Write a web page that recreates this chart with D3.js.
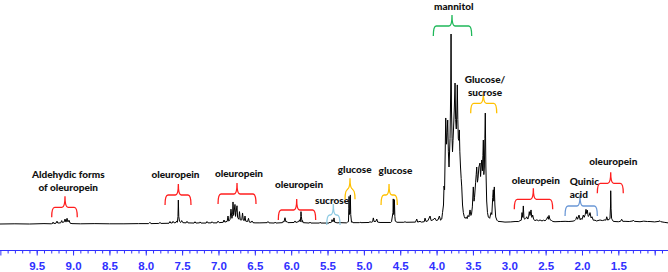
<!DOCTYPE html>
<html><head><meta charset="utf-8">
<script src="https://cdn.jsdelivr.net/npm/d3@7"></script>
<style>
html,body{margin:0;padding:0;background:#fff;}
svg{display:block;}
</style></head>
<body><svg id="chart" width="668" height="272"></svg>
<script>
// ---- data (ppm, relative intensity) ----
const spectrum = [
[10.005,0],[9.80,0.1],[9.60,0],[9.40,0.2],[9.30,0.1],
[9.28,0.3],[9.276,1.0],[9.265,0.3],[9.235,0.4],[9.221,1.5],[9.21,0.5],[9.17,0.6],[9.156,1.8],[9.145,0.8],[9.12,1.2],[9.111,2.6],[9.097,1.0],[9.083,3.0],[9.070,1.1],[9.056,2.0],[9.04,0.4],[9.015,0.2],
[8.90,0.1],[8.70,0.2],[8.50,0.1],[8.30,0.1],[8.10,0.2],[7.96,0.2],[7.942,0.9],[7.93,0.2],[7.82,0.3],[7.804,0.8],[7.79,0.3],[7.68,0.4],[7.667,1.3],[7.655,0.5],[7.635,0.6],[7.625,1.4],[7.61,0.6],[7.585,0.8],[7.575,1.6],[7.565,0.9],[7.557,4],[7.552,12.6],[7.546,4],[7.536,1.4],[7.52,0.8],[7.506,1.8],[7.49,0.7],[7.445,0.6],[7.433,1.4],[7.42,0.6],[7.335,0.5],[7.323,1.2],[7.31,0.5],[7.26,0.6],[7.254,1.1],[7.24,0.5],[7.17,0.5],[7.158,1.3],[7.145,0.6],[7.10,0.6],[7.089,1.2],[7.075,0.6],[7.02,0.6],[7.006,1.5],[6.99,0.7],
[6.935,0.9],[6.924,2.1],[6.912,1.0],[6.88,1.4],[6.869,4.2],[6.858,1.5],[6.84,2.5],[6.828,7.8],[6.815,3.0],[6.806,5],[6.800,11.6],[6.792,4.5],[6.786,6],[6.773,10.3],[6.765,4],[6.759,6],[6.745,9.6],[6.737,3.5],[6.720,2.5],[6.711,6.5],[6.700,2.2],[6.690,2.0],[6.680,2.2],[6.669,5.8],[6.658,2],[6.645,1.8],[6.635,4.2],[6.625,1.5],[6.600,1.3],[6.587,3.0],[6.575,1.0],[6.550,0.9],[6.539,1.6],[6.525,0.7],[6.497,0.6],[6.43,0.6],[6.33,0.7],[6.319,1.3],[6.305,0.6],[6.23,0.5],[6.222,1.0],[6.21,0.5],[6.12,0.7],[6.112,1.4],[6.10,1.0],[6.085,3.3],[6.072,1.1],[6.057,1.3],[6.045,0.7],[5.96,0.8],[5.947,1.6],[5.935,0.8],[5.895,1.3],[5.885,2.2],[5.875,1.2],[5.868,4],[5.865,6.5],[5.860,4],[5.850,1.0],[5.844,1.8],[5.835,0.7],[5.75,0.5],[5.741,1.0],[5.73,0.5],[5.61,0.5],[5.603,0.9],[5.59,0.5],[5.48,0.5],[5.466,1.0],[5.455,0.6],[5.445,1.2],[5.438,2.3],[5.430,1.3],[5.425,1.8],[5.418,1.4],[5.411,3.2],[5.403,1.0],[5.383,0.8],[5.37,0.6],[5.328,0.7],[5.24,0.6],[5.225,1.0],[5.212,1.2],[5.207,8],[5.204,14.5],[5.199,5],[5.191,6],[5.186,15.3],[5.181,5],[5.170,0.9],[5.163,1.2],[5.15,0.7],[5.06,0.7],[5.053,1.0],[5.04,0.7],[4.93,0.8],[4.916,1.2],[4.90,0.9],[4.88,1.2],[4.870,3.2],[4.860,1.3],[4.835,1.4],[4.823,2.6],[4.810,1.0],[4.778,0.8],[4.63,0.8],[4.62,1.2],[4.600,6],[4.596,13.2],[4.590,5],[4.585,6],[4.580,12.8],[4.574,4],[4.568,1.5],[4.544,0.9],[4.45,0.9],[4.434,1.2],[4.42,0.9],[4.29,1.0],[4.273,2.6],[4.26,1.0],[4.228,1.4],[4.21,1.0],[4.17,1.2],[4.159,3.1],[4.145,1.3],[4.12,1.7],[4.09,4.2],[4.075,1.8],[4.05,2.2],[4.022,3.1],[4.005,1.8],[3.98,2.2],[3.962,4.2],[3.945,2.0],
[3.929,2.6],[3.918,6],[3.905,10],[3.898,20],[3.890,18],[3.874,55.8],[3.863,42],[3.855,48],[3.847,54.7],[3.838,38],[3.829,30],[3.815,45],[3.806,70],[3.801,100],[3.795,60],[3.787,45],[3.781,38],[3.774,44],[3.767,50],[3.757,60],[3.746,74.2],[3.738,55],[3.729,50],[3.721,60],[3.715,73.2],[3.708,55],[3.701,45],[3.694,44],[3.687,49.5],[3.680,38],[3.671,30],[3.662,24],[3.654,19.5],[3.643,10],[3.632,6],[3.620,4],[3.609,3],[3.590,3.6],[3.580,2.8],[3.568,4.5],[3.555,3.8],[3.540,7.4],[3.528,4.5],[3.520,5],[3.508,9],[3.495,19.5],[3.485,12],[3.478,14],[3.463,22],[3.455,26],[3.448,30],[3.438,22],[3.430,24],[3.418,30],[3.403,32.1],[3.395,25],[3.387,30],[3.379,33.7],[3.370,28],[3.363,36],[3.357,44.2],[3.350,26],[3.343,30],[3.336,45],[3.330,58.4],[3.322,30],[3.311,12.1],[3.300,6],[3.288,3.7],[3.270,3.0],[3.251,6],[3.240,5],[3.228,14],[3.220,18],[3.213,12],[3.206,19.5],[3.198,10],[3.187,3.7],[3.170,2],[3.155,1.4],
[3.10,1.2],[3.059,1.0],[2.98,1.1],[2.921,1.3],[2.87,1.3],[2.852,1.8],[2.835,2.0],[2.825,6],[2.815,3.5],[2.807,9.5],[2.798,3],[2.784,2.5],[2.772,3],[2.760,3.8],[2.745,2.6],[2.735,3.5],[2.725,6.5],[2.715,4.5],[2.701,7.4],[2.690,3.5],[2.678,4.7],[2.665,2.4],[2.646,1.8],[2.62,2.2],[2.60,1.7],[2.577,2.1],[2.55,1.6],[2.530,2.0],[2.509,1.7],[2.490,2.3],[2.471,3.8],[2.462,2.5],[2.454,4.5],[2.440,2.3],[2.417,1.8],[2.40,1.3],[2.371,1.2],[2.30,1.3],[2.233,1.4],[2.18,1.3],[2.123,1.5],[2.10,1.8],[2.085,2.4],[2.073,3.8],[2.060,2.5],[2.041,4.7],[2.025,2.2],[2.013,3.0],[2.000,2.4],[1.982,4.7],[1.970,3.5],[1.955,5],[1.945,7.7],[1.936,5.5],[1.927,7.3],[1.915,4],[1.900,4.5],[1.890,6],[1.875,3.2],[1.862,3.8],[1.845,2.0],[1.821,2.0],[1.80,1.6],[1.752,2.1],[1.72,1.8],[1.683,2.2],[1.670,2.0],[1.660,3.8],[1.645,2.0],[1.628,2.5],[1.615,2.8],[1.607,10],[1.605,17.5],[1.600,8],[1.593,3],[1.587,2.5],[1.570,1.4],[1.546,1.3],[1.50,1.2],[1.47,1.4],[1.454,2.5],[1.440,1.4],[1.408,1.4],[1.35,1.3],[1.30,1.6],[1.294,2.0],[1.28,1.4],[1.202,1.2],[1.15,1.5],[1.10,1.3],[1.064,1.3],[1.00,1.1],[0.940,1.4],[0.927,1.7],[0.915,1.2],[0.870,0.9],[0.817,0.6]
];

// annotation braces: ppm span, tip ppm, brace level (intensity), label anchor (ppm, intensity of last baseline)
const annLabels   = [["Aldehydic forms","of oleuropein"],["oleuropein"],["oleuropein"],["oleuropein"],["sucrose"],["glucose"],["glucose"],["mannitol"],["Glucose/","sucrose"],["oleuropein"],["Quinic","acid"],["oleuropein"]];
const annLeft     = [9.294, 7.735, 7.006, 6.177, 5.511, 5.259, 4.764, 4.045, 3.531, 2.931, 2.233, 1.789];
const annRight    = [8.942, 7.378, 6.484, 5.663, 5.328, 5.122, 4.540, 3.517, 3.173, 2.403, 1.789, 1.432];
const annTip      = [9.111, 7.552, 6.745, 5.924, 5.420, 5.191, 4.654, 3.788, 3.357, 2.669, 2.027, 1.605];
const annLevel    = [8.79, 15.26, 15.8, 7.37, 4.74, 18.26, 15.26, 104.2, 63.5, 13.0, 9.47, 21.4];
const annTextPpm  = [9.066, 7.591, 6.718, 5.892, 5.438, 5.126, 4.565, 3.764, 3.334, 2.635, 2.170, 1.569];
const annTextInt  = [17.4, 24.3, 24.7, 18.7, 10.3, 26.9, 26.2, 112.4, 67.6, 21.3, 13.9, 31.1];
const annKind     = ["olp","olp","olp","olp","suc","glc","glc","man","glc","olp","qui","olp"];

const majorTicks  = [10.0, 9.5, 9.0, 8.5, 8.0, 7.5, 7.0, 6.5, 6.0, 5.5, 5.0, 4.5, 4.0, 3.5, 3.0, 2.5, 2.0, 1.5, 1.0];
const tickLabels  = ["", "9.5", "9.0", "8.5", "8.0", "7.5", "7.0", "6.5", "6.0", "5.5", "5.0", "4.5", "4.0", "3.5", "3.0", "2.5", "2.0", "1.5", ""];
const minorTicks  = d3.range(99, 8, -1).map(d => d / 10);

// ---- styles ----
const colors = {olp:"#ff1f1f", glc:"#ffc000", man:"#1fb85a", suc:"#8fcbe3", qui:"#6b98d6"};
const anchors = {qui:"start"};
const axisColor = "#3030ff";

const W = 668, H = 272;
const svg = d3.select("#chart");
const x = d3.scaleLinear().domain([10.005, 0.817]).range([0, W]);
const y = d3.scaleLinear().domain([0, 100]).range([224, 34]);

// spectrum
svg.append("path")
  .datum(spectrum)
  .attr("fill", "none")
  .attr("stroke", "#000")
  .attr("stroke-width", 1)
  .attr("stroke-linejoin", "round")
  .attr("d", d3.line().x(d => x(d[0])).y(d => y(d[1])));

// axis
const axisY = 250.5;
const gMinor = svg.append("g").attr("transform", `translate(0,${axisY})`)
  .call(d3.axisBottom(x).tickValues(minorTicks).tickSize(3).tickSizeOuter(0).tickFormat(""));
const gMajor = svg.append("g").attr("transform", `translate(0,${axisY})`)
  .call(d3.axisBottom(x).tickValues(majorTicks).tickSize(5).tickSizeOuter(0).tickPadding(6)
        .tickFormat((d, i) => tickLabels[i]));
[gMinor, gMajor].forEach(g => {
  g.select(".domain").attr("stroke", axisColor).attr("d", `M0,0H${W}`);
  g.selectAll(".tick line").attr("stroke", axisColor);
  g.selectAll(".tick text").attr("fill", axisColor)
    .style("font-family", "'Liberation Sans', Arial, sans-serif")
    .style("font-weight", "bold").style("font-size", "11.5px");
});

// braces
function brace(xl, xr, xt, yh, drop, rise) {
  const r = 3;
  return `M${xl},${yh + drop} Q${xl},${yh} ${xl + r},${yh} L${xt - r},${yh} Q${xt},${yh} ${xt},${yh - rise} Q${xt},${yh} ${xt + r},${yh} L${xr - r},${yh} Q${xr},${yh} ${xr},${yh + drop}`;
}
annLabels.forEach((lab, i) => {
  const c = colors[annKind[i]];
  svg.append("path")
    .attr("d", brace(x(annLeft[i]), x(annRight[i]), x(annTip[i]), y(annLevel[i]), 10, 11))
    .attr("fill", "none").attr("stroke", c).attr("stroke-width", 1.3);
  const t = svg.append("text")
    .attr("x", x(annTextPpm[i]))
    .attr("y", y(annTextInt[i]))
    .attr("text-anchor", anchors[annKind[i]] || "middle")
    .style("font-family", "Lato, 'Open Sans', sans-serif")
    .style("font-weight", "900").style("font-size", "10px").attr("fill", "#111");
  lab.forEach((line, j) => {
    t.append("tspan").attr("x", x(annTextPpm[i]))
      .attr("dy", j === 0 ? -(lab.length - 1) * 12.5 : 12.5)
      .text(line);
  });
});
</script></body></html>
